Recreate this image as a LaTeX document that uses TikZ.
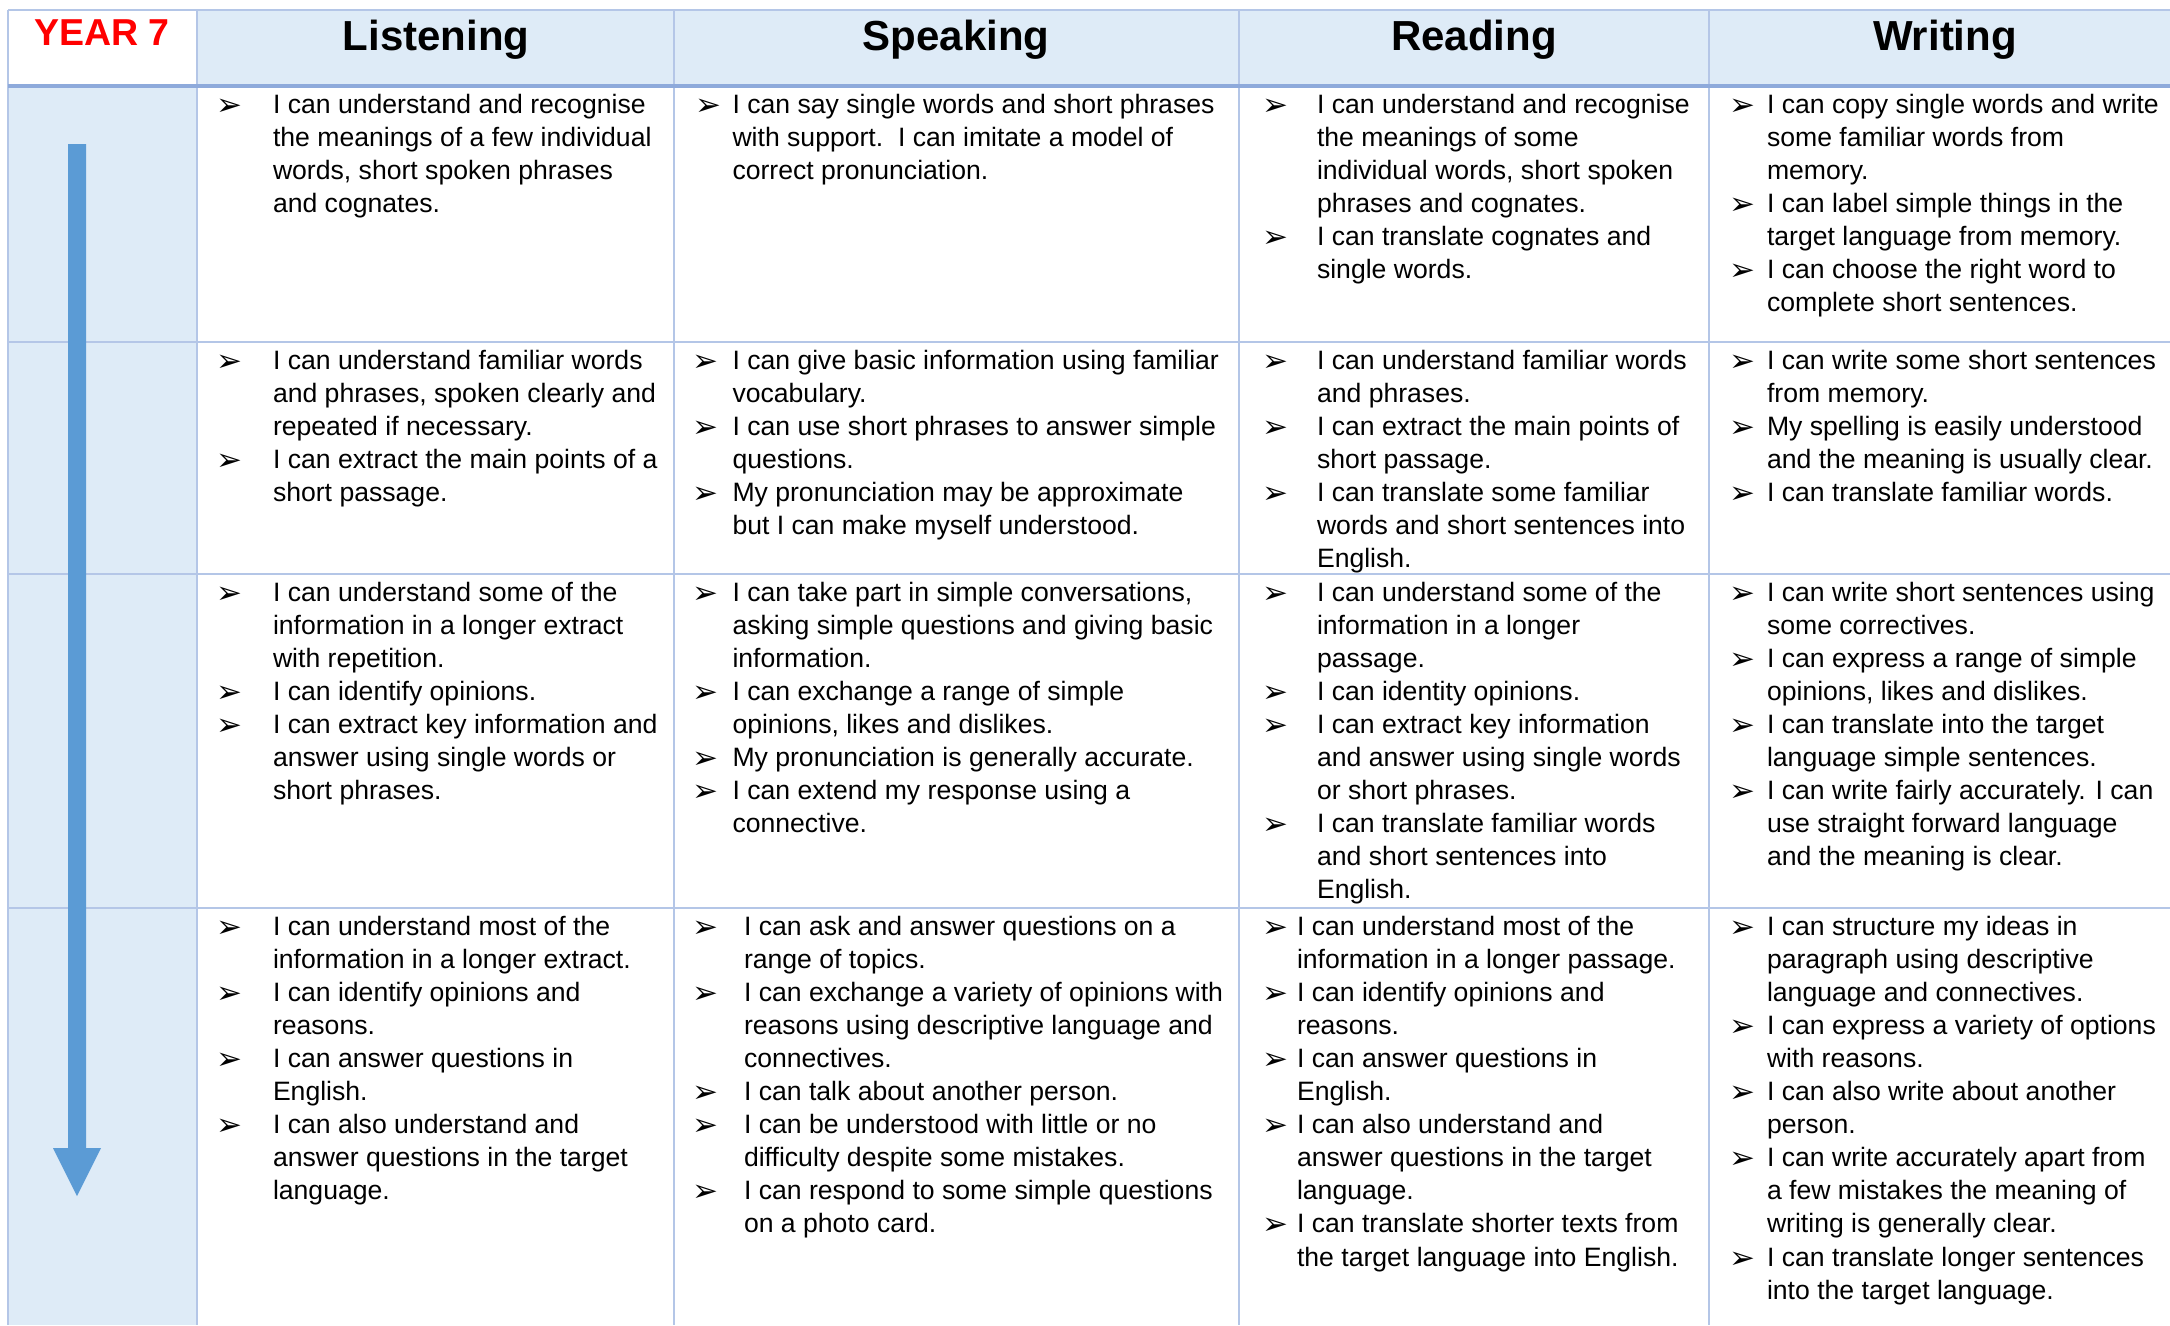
\documentclass[tikz,border=0pt]{standalone}
\usepackage{fontspec}
\setmainfont{Liberation Sans}
\newfontfamily\djfont{DejaVu Sans}
\definecolor{gridc}{HTML}{B4C6E7}
\definecolor{headc}{HTML}{8EAADB}
\definecolor{fillc}{HTML}{DEEBF7}
\definecolor{arrc}{HTML}{5B9BD5}
\definecolor{yearred}{HTML}{FF0000}
\newcommand\blt{\raisebox{-2pt}{\djfont\fontsize{31}{31}\selectfont ➢}}
\newcommand\itm[2]{\par\noindent\makebox[#1pt][l]{\blt}\parbox[t]{520pt}{\strut#2\strut}\par\prevdepth=\dp\strutbox}
\newcommand\cellbox[1]{\vtop{\hsize=600pt\parindent=0pt\parskip=0pt\fontsize{26.6}{33.1}\selectfont #1}}
\tikzset{
  cell/.style={anchor=base west, inner sep=0pt, outer sep=0pt},
  head/.style={anchor=base, inner sep=0pt, font=\bfseries\fontsize{42}{42}\selectfont},
  year/.style={anchor=base, inner sep=0pt, text=yearred, font=\bfseries\fontsize{37.5}{37.5}\selectfont},
  grid/.style={draw=gridc, line width=2.2pt},
  headline/.style={draw=headc, line width=4.5pt},
}
\begin{document}
\begin{tikzpicture}[x=1pt,y=-1pt]
\useasboundingbox (0,0) rectangle (2170,1325);
% fills
\fill[fillc] (197,10) rectangle (2170,86);
\fill[fillc] (8,86) rectangle (197,1325);
% grid
\foreach \yy in {342,574,908} \draw[grid] (8,\yy) -- (2170,\yy);
\draw[grid] (8,10) -- (2170,10);
\foreach \xx in {8,197,674,1239,1709} \draw[grid] (\xx,10) -- (\xx,1325);
\draw[headline] (8,86) -- (2170,86);
% arrow
\fill[arrc] (68,144) -- (86,144) -- (86,1148) -- (101,1148) -- (77,1196) -- (53,1148) -- (68,1148) -- cycle;
% headers
\node[year] (yr) at (102,45) {YEAR 7};
\node[head] (hL) at (436,50) {Listening};
\node[head] (hS) at (956,50) {Speaking};
\node[head] (hR) at (1474,50) {Reading};
\node[head] (hW) at (1945,50) {Writing};
% Listening
\node[cell] (l1) at (216,113) {\cellbox{%
\itm{57}{I can understand and recognise\\the meanings of a few individual\\words, short spoken phrases\\and cognates.}}};
\node[cell] (l2) at (216,369) {\cellbox{%
\itm{57}{I can understand familiar words\\and phrases, spoken clearly and\\repeated if necessary.}%
\itm{57}{I can extract the main points of a\\short passage.}}};
\node[cell] (l3) at (216,601) {\cellbox{%
\itm{57}{I can understand some of the\\information in a longer extract\\with repetition.}%
\itm{57}{I can identify opinions.}%
\itm{57}{I can extract key information and\\answer using single words or\\short phrases.}}};
\node[cell] (l4) at (216,935) {\cellbox{%
\itm{57}{I can understand most of the\\information in a longer extract.}%
\itm{57}{I can identify opinions and\\reasons.}%
\itm{57}{I can answer questions in\\English.}%
\itm{57}{I can also understand and\\answer questions in the target\\language.}}};
% Speaking
\node[cell] (s1) at (695,113) {\cellbox{%
\itm{37.5}{I can say single words and short phrases\\with support.\ \ I can imitate a model of\\correct pronunciation.}}};
\node[cell] (s2) at (692,369) {\cellbox{%
\itm{40.5}{I can give basic information using familiar\\vocabulary.}%
\itm{40.5}{I can use short phrases to answer simple\\questions.}%
\itm{40.5}{My pronunciation may be approximate\\but I can make myself understood.}}};
\node[cell] (s3) at (692,601) {\cellbox{%
\itm{40.5}{I can take part in simple conversations,\\asking simple questions and giving basic\\information.}%
\itm{40.5}{I can exchange a range of simple\\opinions, likes and dislikes.}%
\itm{40.5}{My pronunciation is generally accurate.}%
\itm{40.5}{I can extend my response using a\\connective.}}};
\node[cell] (s4) at (692,935) {\cellbox{%
\itm{52}{I can ask and answer questions on a\\range of topics.}%
\itm{52}{I can exchange a variety of opinions with\\reasons using descriptive language and\\connectives.}%
\itm{52}{I can talk about another person.}%
\itm{52}{I can be understood with little or no\\difficulty despite some mistakes.}%
\itm{52}{I can respond to some simple questions\\on a photo card.}}};
% Reading
\node[cell] (r1) at (1262,113) {\cellbox{%
\itm{55}{I can understand and recognise\\the meanings of some\\individual words, short spoken\\phrases and cognates.}%
\itm{55}{I can translate cognates and\\single words.}}};
\node[cell] (r2) at (1262,369) {\cellbox{%
\itm{55}{I can understand familiar words\\and phrases.}%
\itm{55}{I can extract the main points of\\short passage.}%
\itm{55}{I can translate some familiar\\words and short sentences into\\English.}}};
\node[cell] (r3) at (1262,601) {\cellbox{%
\itm{55}{I can understand some of the\\information in a longer\\passage.}%
\itm{55}{I can identity opinions.}%
\itm{55}{I can extract key information\\and answer using single words\\or short phrases.}%
\itm{55}{I can translate familiar words\\and short sentences into\\English.}}};
\node[cell] (r4) at (1262,935) {\cellbox{%
\itm{35}{I can understand most of the\\information in a longer passage.}%
\itm{35}{I can identify opinions and\\reasons.}%
\itm{35}{I can answer questions in\\English.}%
\itm{35}{I can also understand and\\answer questions in the target\\language.}%
\itm{35}{I can translate shorter texts from\\the target language into English.}}};
% Writing
\node[cell] (w1) at (1729,113) {\cellbox{%
\itm{38}{I can copy single words and write\\some familiar words from\\memory.}%
\itm{38}{I can label simple things in the\\target language from memory.}%
\itm{38}{I can choose the right word to\\complete short sentences.}}};
\node[cell] (w2) at (1729,369) {\cellbox{%
\itm{38}{I can write some short sentences\\from memory.}%
\itm{38}{My spelling is easily understood\\and the meaning is usually clear.}%
\itm{38}{I can translate familiar words.}}};
\node[cell] (w3) at (1729,601) {\cellbox{%
\itm{38}{I can write short sentences using\\some correctives.}%
\itm{38}{I can express a range of simple\\opinions, likes and dislikes.}%
\itm{38}{I can translate into the target\\language simple sentences.}%
\itm{38}{I can write fairly accurately. I can\\use straight forward language\\and the meaning is clear.}}};
\node[cell] (w4) at (1729,935) {\cellbox{%
\itm{38}{I can structure my ideas in\\paragraph using descriptive\\language and connectives.}%
\itm{38}{I can express a variety of options\\with reasons.}%
\itm{38}{I can also write about another\\person.}%
\itm{38}{I can write accurately apart from\\a few mistakes the meaning of\\writing is generally clear.}%
\itm{38}{I can translate longer sentences\\into the target language.}}};
\end{tikzpicture}
\end{document}
